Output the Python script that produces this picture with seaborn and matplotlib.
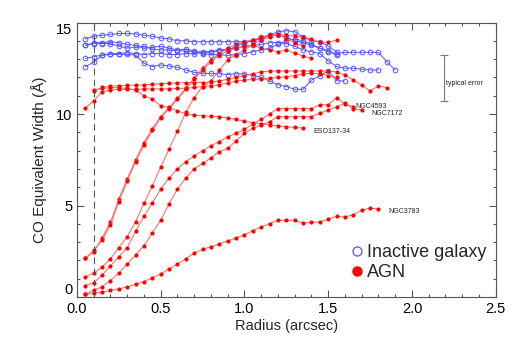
import numpy as np
import pandas as pd
import matplotlib
matplotlib.use("Agg")
import matplotlib.pyplot as plt
import seaborn as sns
from matplotlib.lines import Line2D

# ---------------- data ----------------
# each curve: (start radius, list of EW values at 0.05" steps)
inactive = {
    "I1": (0.05, [14.1, 14.25, 14.3, 14.35, 14.4, 14.4, 14.38, 14.3, 14.25, 14.15, 14.1, 14.0,
                  14.0, 13.95, 13.95, 13.95, 13.95, 13.95, 13.95, 13.95, 14.0, 14.1, 14.3, 14.5,
                  14.55, 14.5, 14.2, 14.0, 13.95, 13.7, 13.4]),
    "I2": (0.05, [13.75, 13.9, 13.9, 13.95, 13.9, 13.8, 13.75, 13.6, 13.65, 13.7, 13.6, 13.5,
                  13.55, 13.45, 13.3, 13.25, 13.25, 13.2, 13.25, 13.3, 13.4, 13.5, 13.6, 13.8,
                  14.0, 14.1, 14.0, 13.8, 13.6, 13.4, 13.3, 13.37, 13.37, 13.37, 13.37, 13.37,
                  12.86, 12.4]),
    "I3": (0.05, [13.04, 13.13, 13.22, 13.26, 13.26, 13.26, 13.22, 12.77, 12.59, 12.68, 12.62,
                  12.55, 12.4, 12.28, 12.22, 12.22, 12.2, 12.15, 12.2, 12.2, 12.1, 12.0, 11.8,
                  11.6, 11.5, 11.35, 11.35, 11.86, 12.1, 12.35, 11.82, 11.8]),
    "I4": (0.05, [12.59, 12.83, 13.2, 13.3, 13.3, 13.35, 13.3, 13.25, 13.3, 13.3, 13.25, 13.25,
                  13.3, 13.3, 13.35, 13.4, 13.5, 13.55, 13.6, 13.7, 13.75, 13.8, 13.9, 13.9,
                  13.85, 13.7, 13.5, 13.4, 13.3, 12.9, 12.6, 12.5, 12.5, 12.45, 12.4, 12.4]),
    "I5": (0.05, [13.75, 13.85, 13.85, 13.85, 13.7, 13.6, 13.65, 13.7, 13.55, 13.5, 13.5, 13.45,
                  13.45, 13.4, 13.4, 13.4, 13.45, 13.5, 13.7, 13.9, 14.0, 14.2, 14.3, 14.3,
                  14.2, 14.0, 13.9, 13.75, 13.6, 13.45, 13.2]),
}

agn = {
    "A1": (0.05, [2.11, 2.48, 3.21, 4.08, 5.36, 6.45, 7.49, 8.43, 9.2, 9.85, 10.34, 10.86, 11.4,
                  11.95, 12.5, 12.95, 13.3, 13.6, 13.8, 13.95, 14.05, 14.2, 14.3, 14.32, 14.32,
                  14.26, 14.22, 14.1, 13.92, 13.92, 14.04]),
    "A2": (0.05, [2.11, 2.55, 3.1, 3.95, 5.2, 6.35, 7.4, 8.3, 9.1, 9.8, 10.3, 10.8, 11.35,
                  11.9, 12.4, 12.85, 13.2, 13.45, 13.6, 13.7, 13.75, 13.6, 13.5, 13.4, 13.5,
                  13.32, 13.17, 13.04]),
    "A3": (0.05, [1.11, 1.29, 1.64, 2.09, 2.70, 3.30, 4.12, 5.12, 6.08, 7.09, 8.09, 9.07, 10.1,
                  10.9, 11.5, 11.8, 12.4, 12.95, 13.25, 13.5, 13.8, 14.04, 14.2, 14.37, 14.1,
                  13.9, 13.7]),
    "NGC4593": (0.05, [0.62, 0.78, 1.2, 1.7, 2.2, 2.7, 3.6, 4.4, 5.15, 5.9, 6.5, 7.0, 7.4, 7.7,
                       8.0, 8.25, 8.49, 8.76, 8.94, 9.16, 9.45, 9.71, 10.0, 10.3, 10.3, 10.3,
                       10.3, 10.3, 10.5, 10.5, 10.9, 10.53, 10.4]),
    "NGC7172": (0.05, [0.15, 0.38, 0.55, 0.9, 1.3, 1.8, 2.3, 2.8, 3.5, 4.2, 5.1, 5.9, 6.5, 7.0,
                       7.3, 7.6, 7.94, 8.12, 8.54, 8.94, 9.22, 9.4, 9.58, 9.85, 9.85, 9.85, 9.85,
                       9.85, 10.04, 10.22, 10.4, 10.6, 10.3, 10.22]),
    "NGC3783": (0.05, [0.15, 0.2, 0.26, 0.37, 0.44, 0.56, 0.69, 0.84, 1.05, 1.26, 1.53, 1.80, 2.09,
                       2.40, 2.61, 2.75, 2.90, 3.06, 3.22, 3.40, 3.62, 3.83, 4.01, 4.19, 4.19, 4.19,
                       4.04, 4.08, 4.10, 4.25, 4.41, 4.37, 4.50, 4.74, 4.86, 4.81]),
    "ESO137-34": (0.1, [11.3, 11.4, 11.44, 11.44, 11.4, 11.31, 11.0, 10.8, 10.45, 10.36, 10.18,
                        10.0, 9.93, 9.9, 9.88, 9.85, 9.78, 9.7, 9.6, 9.53, 9.47, 9.4, 9.35, 9.3,
                        9.27, 9.23]),
    "F1": (0.1, [11.26, 11.45, 11.52, 11.55, 11.57, 11.57, 11.6, 11.63, 11.65, 11.68, 11.7, 11.72,
                 11.72, 11.72, 11.75, 11.8, 11.9, 12.0, 12.1, 12.2, 12.3, 12.35, 12.35, 12.35,
                 12.35, 12.35, 12.35, 12.35, 12.35, 12.3, 12.13, 11.86, 11.58, 11.27, 11.53, 11.44]),
    "F2": (0.05, [10.34, 10.71, 11.22, 11.3, 11.35, 11.35, 11.35, 11.37, 11.37, 11.37, 11.37, 11.4,
                  11.4, 11.45, 11.5, 11.55, 11.6, 11.7, 11.8, 11.85, 11.9, 11.9, 11.95, 12.0,
                  12.04, 12.1, 12.2, 12.22, 12.2, 12.1, 12.0]),
}

labels = {"NGC4593": (1.66, 10.4), "NGC7172": (1.76, 10.04),
          "ESO137-34": (1.41, 9.07), "NGC3783": (1.86, 4.66)}

step = 0.05

def to_long(d, kind):
    rows = []
    for name, (r0, vals) in d.items():
        for i, v in enumerate(vals):
            rows.append({"galaxy": name, "radius": r0 + i * step, "ew": v, "type": kind})
    return rows

df = pd.DataFrame(to_long(inactive, "Inactive galaxy") + to_long(agn, "AGN"))

# ---------------- plot ----------------
sns.set_style("ticks")
plt.rcParams["font.family"] = ["Liberation Sans", "DejaVu Sans"]

fig = plt.figure(figsize=(5.18, 3.45), dpi=100)
ax = fig.add_axes([77 / 518, 1 - 297 / 345, (495.7 - 77) / 518, (297 - 22.5) / 345])

blue = "#5555ff"
red = "#ff0000"

sns.lineplot(data=df[df["type"] == "Inactive galaxy"], x="radius", y="ew", units="galaxy",
             estimator=None, sort=False, color=blue, lw=0.7, marker="o", ms=3.4,
             mfc="none", mec=blue, mew=0.7, ax=ax, legend=False)
sns.lineplot(data=df[df["type"] == "AGN"], x="radius", y="ew", units="galaxy",
             estimator=None, sort=False, color="#ff6060", lw=0.7, marker="o", ms=3.0,
             mfc=red, mec=red, mew=0, ax=ax, legend=False)

ax.axvline(0.1, color="#555555", lw=0.8, ls=(0, (6, 4)))

ax.errorbar([2.19], [11.97], yerr=[1.25], color="#777777", lw=0.8, capsize=3, capthick=0.8)
ax.text(2.205, 11.68, "typical error", fontsize=5, va="center", ha="left", color="#222222")

for name, (x, y) in labels.items():
    ax.text(x, y, name, fontsize=5, va="center", ha="left", color="#222222")

ax.set_xlim(0, 2.5)
ax.set_ylim(0, 15)
ax.set_xticks([0, 0.5, 1.0, 1.5, 2.0, 2.5])
ax.set_xticklabels(["0.0", "0.5", "1.0", "1.5", "2.0", "2.5"])
ax.set_yticks([0, 5, 10, 15])
ax.set_xticks(np.arange(0, 2.501, 0.1), minor=True)
ax.set_yticks(np.arange(0, 15.01, 1), minor=True)
ax.tick_params(which="both", direction="in", top=True, right=True, colors="#555555",
               labelcolor="black", labelsize=10.5)
ax.tick_params(which="major", length=5, width=0.8)
ax.tick_params(which="minor", length=2.5, width=0.8)
for s in ax.spines.values():
    s.set_color("#555555")
    s.set_linewidth(0.8)
    s.set_visible(True)
ylabs = ax.get_yticklabels()
ylabs[0].set_va("bottom")
ylabs[-1].set_va("top")

ax.set_xlabel("Radius (arcsec)", fontsize=10.5, labelpad=2)
ax.set_ylabel("CO Equivalent Width (Å)", fontsize=11, labelpad=6)

handles = [Line2D([], [], ls="none", marker="o", ms=6.5, mfc="none", mec=blue, mew=0.9),
           Line2D([], [], ls="none", marker="o", ms=6.5, mfc=red, mec=red)]
ax.legend(handles, ["Inactive galaxy", "AGN"], loc="lower left", bbox_to_anchor=(0.625, 0.025),
          frameon=False, fontsize=13, handletextpad=0.05, handlelength=1.0, borderpad=0,
          labelspacing=0.15)

fig.savefig("out.png", dpi=100)
